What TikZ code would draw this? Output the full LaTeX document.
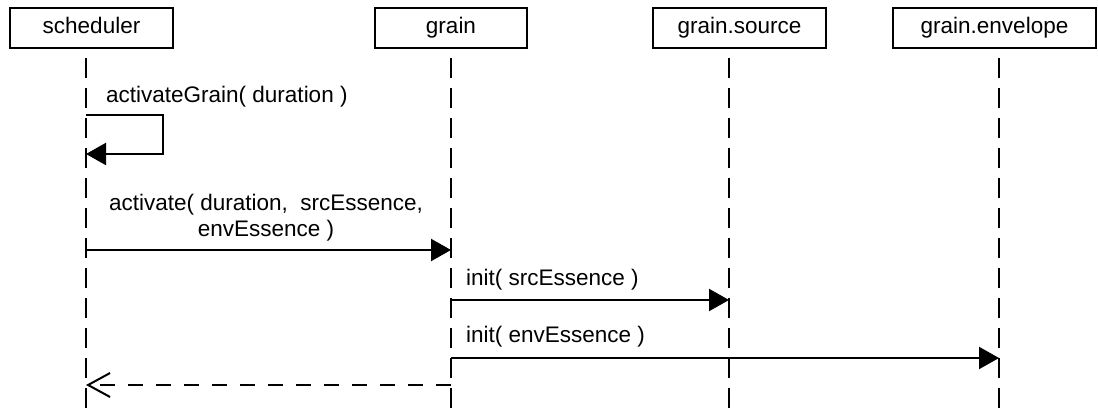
\documentclass[tikz,border=0pt]{standalone}
\usepackage{fontspec}
\setmainfont{Liberation Sans}
\usetikzlibrary{arrows.meta}
\begin{document}
\begin{tikzpicture}[x=1pt,y=-1pt,
  txt/.style={font=\fontsize{22.5}{26}\selectfont},
  obj/.style={txt, draw, line width=2pt, minimum height=40pt, inner sep=0pt,
    text height=16pt, text depth=5pt},
  life/.style={line width=2pt, dash pattern=on 20pt off 10pt},
  msg/.style={line width=2.2pt, -{Triangle[length=20pt,width=22pt]}},
  ret/.style={line width=2pt, dash pattern=on 15pt off 13pt, -{Straight Barb[length=22pt,width=24pt]}},
  lbl/.style={txt, inner sep=0pt}]
\useasboundingbox (0,0) rectangle (1098,414);

% participants
\node[obj, minimum width=163pt] (sched) at (91.5,28) {scheduler};
\node[obj, minimum width=152pt] (grain) at (451,28) {grain};
\node[obj, minimum width=173pt] (src) at (739.5,28) {grain.source};
\node[obj, minimum width=203pt] (env) at (994.5,28) {grain.envelope};

% lifelines
\coordinate (schedT) at (86,58);  \coordinate (schedB) at (86,414);
\coordinate (grainT) at (451,58); \coordinate (grainB) at (451,414);
\coordinate (srcT) at (729,58);   \coordinate (srcB) at (729,414);
\coordinate (envT) at (999,58);   \coordinate (envB) at (999,414);
\draw[life] (schedT) -- (schedB);
\draw[life] (grainT) -- (grainB);
\draw[life] (srcT) -- (srcB);
\draw[life] (envT) -- (envB);

% self call on the scheduler
\coordinate (selfA) at (86,115);
\coordinate (selfB) at (86,154);
\draw[msg] (selfA) -- ++(77,0) |- (selfB);
\node[lbl, anchor=west] (lselfcall) at (106,97) {activateGrain( duration )};

% scheduler -> grain
\coordinate (actA) at (86,250);
\coordinate (actB) at (451,250);
\draw[msg] (actA) -- (actB);
\node[lbl, align=center] (lact) at (266,218) {activate( duration,\ \ srcEssence,\\envEssence )};

% grain -> grain.source
\coordinate (isA) at (451,300);
\coordinate (isB) at (729,300);
\draw[msg] (isA) -- (isB);
\node[lbl, anchor=west] (linitsrc) at (466,280) {init( srcEssence )};

% grain -> grain.envelope
\coordinate (ieA) at (451,358);
\coordinate (ieB) at (999,358);
\draw[msg] (ieA) -- (ieB);
\node[lbl, anchor=west] (linitenv) at (466,337) {init( envEssence )};

% return to the scheduler
\coordinate (rA) at (451,385);
\coordinate (rB) at (86,385);
\draw[ret] (rA) -- (rB);
\end{tikzpicture}
\end{document}
